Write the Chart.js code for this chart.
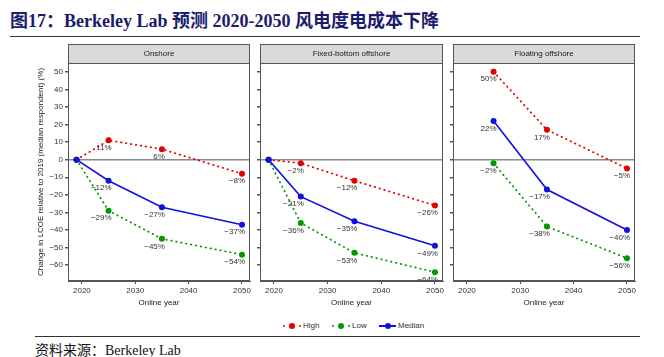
<!DOCTYPE html>
<html><head><meta charset="utf-8">
<script src="https://cdn.jsdelivr.net/npm/chart.js@4"></script>
<style>
body{margin:0;width:664px;height:357px;background:#fff;position:relative;overflow:hidden;font-family:"Liberation Sans",Arial,sans-serif}
#title{position:absolute;left:10px;top:10px;font:bold 18px "Liberation Serif","Noto Sans CJK SC",serif;color:#1c1c6c;white-space:nowrap;line-height:22px}
.rule{position:absolute;height:0;border-top:1.5px solid #333}
canvas{position:absolute}
.lg{position:absolute;top:320px;height:12px;font-size:8px;color:#333;line-height:12px;white-space:nowrap}
.sd{position:absolute;width:2px;height:2px;border-radius:1px;top:5px}
.bd{position:absolute;width:6px;height:6px;border-radius:3px;top:3px}
.sl{position:absolute;height:2px;top:5px}
#foot{position:absolute;left:35px;top:342px;font:14px "Liberation Serif","Noto Sans CJK SC",serif;color:#111;white-space:nowrap;line-height:18px}
</style></head><body>
<div id="title">图17：Berkeley Lab 预测 2020-2050 风电度电成本下降</div>
<div class="rule" style="left:10px;width:630px;top:36px"></div>
<canvas id="c1" width="225" height="270" style="left:30px;top:40px"></canvas>
<canvas id="c2" width="193" height="270" style="left:255px;top:40px"></canvas>
<canvas id="c3" width="192" height="270" style="left:448px;top:40px"></canvas>
<div class="lg" style="left:280px;width:40px">
  <span class="sd" style="left:3px;background:#e00000"></span>
  <span class="bd" style="left:9px;background:#e00000"></span>
  <span class="sd" style="left:19px;background:#e00000"></span>
  <span style="position:absolute;left:23px">High</span>
</div>
<div class="lg" style="left:330px;width:40px">
  <span class="sd" style="left:2px;background:#009a00"></span>
  <span class="bd" style="left:8px;background:#009a00"></span>
  <span class="sd" style="left:18px;background:#009a00"></span>
  <span style="position:absolute;left:22px">Low</span>
</div>
<div class="lg" style="left:379px;width:50px">
  <span class="sl" style="left:0;width:17px;background:#1010e0;height:1.6px"></span>
  <span class="bd" style="left:5.5px;background:#1010e0"></span>
  <span style="position:absolute;left:19px">Median</span>
</div>
<div class="rule" style="left:35px;width:605px;top:336px"></div>
<div id="foot">资料来源：Berkeley Lab</div>
<script>
const PANELS = ["Onshore", "Fixed-bottom offshore", "Floating offshore"];
const YEARS = [2019, 2025, 2035, 2050];
const YEARS_FLOAT = [2025, 2035, 2050];
const BASE_YEAR = 2019;
const X_TICKS = [2020, 2030, 2040, 2050];
const Y_TICKS = [-60, -50, -40, -30, -20, -10, 0, 10, 20, 30, 40, 50];

const onshoreHigh = [0, 11, 6, -8];
const onshoreLow = [0, -29, -45, -54];
const onshoreMedian = [0, -12, -27, -37];

const fixedHigh = [0, -2, -12, -26];
const fixedLow = [0, -36, -53, -64];
const fixedMedian = [0, -21, -35, -49];

const floatHigh = [50, 17, -5];
const floatLow = [-2, -38, -56];
const floatMedian = [22, -17, -40];

const RED = '#e00000', GREEN = '#009a00', BLUE = '#1010e0';
const fmt = v => (v < 0 ? '\u2212' + Math.abs(v) : String(v));

const stripPlugin = {
  id: 'strip',
  afterDraw(chart, args, opts) {
    const {ctx, chartArea: a} = chart;
    ctx.save();
    ctx.fillStyle = '#d9d9d9';
    ctx.fillRect(a.left, a.top - 19, a.right - a.left, 19);
    ctx.strokeStyle = '#555';
    ctx.lineWidth = 1;
    ctx.strokeRect(a.left + 0.5, a.top - 19 + 0.5, a.right - a.left - 1, 19);
    ctx.strokeRect(a.left + 0.5, a.top + 0.5, a.right - a.left - 1, a.bottom - a.top - 1);
    ctx.fillStyle = '#222';
    ctx.font = '8px "Liberation Sans", Arial, sans-serif';
    ctx.textAlign = 'center';
    ctx.textBaseline = 'middle';
    ctx.fillText(opts.text, (a.left + a.right) / 2, a.top - 9.5);
    ctx.restore();
  }
};

const labelPlugin = {
  id: 'pointLabels',
  afterDatasetsDraw(chart) {
    const ctx = chart.ctx;
    ctx.save();
    ctx.font = '8px "Liberation Sans", Arial, sans-serif';
    ctx.fillStyle = '#333';
    ctx.textAlign = 'right';
    ctx.textBaseline = 'middle';
    chart.data.datasets.forEach((ds, i) => {
      const meta = chart.getDatasetMeta(i);
      meta.data.forEach((pt, j) => {
        const d = ds.data[j];
        if (d.x === BASE_YEAR) return;
        ctx.fillText(fmt(d.y) + '%', pt.x + 3, pt.y + 7.5);
      });
    });
    ctx.restore();
  }
};

function series(xs, ys) { return xs.map((x, i) => ({x, y: ys[i]})); }

function makePanel(id, title, xs, high, low, median, first) {
  const dotted = {borderDash: [0.5, 4.5], borderCapStyle: 'round', borderWidth: 1.8, pointRadius: 3, pointBorderWidth: 0, clip: false, tension: 0};
  new Chart(document.getElementById(id), {
    type: 'line',
    data: {
      datasets: [
        Object.assign({label: 'High', data: series(xs, high), borderColor: RED, pointBackgroundColor: RED, order: 3}, dotted),
        Object.assign({label: 'Low', data: series(xs, low), borderColor: GREEN, pointBackgroundColor: GREEN, order: 2}, dotted),
        {label: 'Median', data: series(xs, median), borderColor: BLUE, pointBackgroundColor: BLUE, borderWidth: 1.6, pointRadius: 3, pointBorderWidth: 0, clip: false, order: 1, tension: 0}
      ]
    },
    options: {
      responsive: false, animation: false, devicePixelRatio: 1,
      layout: {padding: {top: 23, right: 5, left: 0, bottom: 0}},
      plugins: {legend: {display: false}, tooltip: {enabled: false}, strip: {text: title}},
      scales: {
        x: {
          type: 'linear', min: 2017.4, max: 2051.5,
          afterBuildTicks: s => { s.ticks = X_TICKS.map(v => ({value: v})); },
          afterFit: s => { s.height = 29; },
          ticks: {font: {size: 8, family: '"Liberation Sans", Arial'}, color: '#333', maxRotation: 0, autoSkip: false, padding: 2, callback: v => String(v)},
          grid: {drawOnChartArea: false, drawTicks: true, tickLength: 3, tickColor: '#555'},
          border: {display: true, color: '#555'},
          title: {display: true, text: 'Online year', font: {size: 8, family: '"Liberation Sans", Arial'}, color: '#222', padding: {top: 0, bottom: 2}}
        },
        y: {
          type: 'linear', min: -69, max: 55,
          afterBuildTicks: s => { s.ticks = Y_TICKS.map(v => ({value: v})); },
          afterFit: s => { s.width = first ? 38 : 5; },
          ticks: {display: first, font: {size: 8, family: '"Liberation Sans", Arial'}, color: '#333', callback: v => fmt(v), padding: 2},
          grid: {drawOnChartArea: true, drawTicks: true, tickLength: 3, tickColor: '#555',
                 color: c => (c.tick && c.tick.value === 0 ? '#8a8a8a' : 'rgba(0,0,0,0)'), lineWidth: 1.5},
          border: {display: true, color: '#555'},
          title: {display: first, text: 'Change in LCOE relative to 2019 (median respondent) (%)', font: {size: 8, family: '"Liberation Sans", Arial'}, color: '#222', padding: {top: 6, bottom: 0}}
        }
      }
    },
    plugins: [stripPlugin, labelPlugin]
  });
}

makePanel('c1', PANELS[0], YEARS, onshoreHigh, onshoreLow, onshoreMedian, true);
makePanel('c2', PANELS[1], YEARS, fixedHigh, fixedLow, fixedMedian, false);
makePanel('c3', PANELS[2], YEARS_FLOAT, floatHigh, floatLow, floatMedian, false);
</script>
</body></html>
